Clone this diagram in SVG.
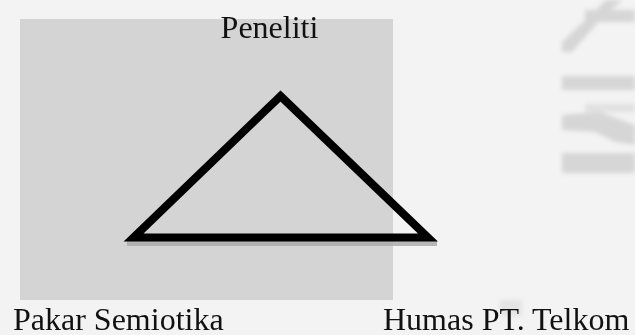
<svg xmlns="http://www.w3.org/2000/svg" width="635" height="335" viewBox="0 0 635 335">
  <style>
    .lbl { font-family: "Liberation Serif", "Times New Roman", serif; font-size: 32px; fill: #111; }
    .wm { fill: #d6d6d6; }
  </style>
  <defs>
    <filter id="soft" x="-10%" y="-10%" width="120%" height="120%">
      <feGaussianBlur stdDeviation="2"/>
    </filter>
  </defs>
  <rect x="0" y="0" width="635" height="335" fill="#f3f3f3"/>
  <g id="watermark" filter="url(#soft)">
    <polygon class="wm" points="562,42 598,8 606,0 622,0 600,20 572,52 562,52"/>
    <rect class="wm" x="585" y="10" width="50" height="12"/>
    <rect class="wm" x="562" y="76" width="73" height="14"/>
    <rect class="wm" x="585" y="104" width="50" height="8" opacity="0.6"/>
    <polygon class="wm" points="562,115 600,112 635,125 635,145 615,142 595,132 562,130"/>
    <rect class="wm" x="562" y="153" width="73" height="20"/>
    <rect class="wm" x="500" y="300" width="22" height="16" opacity="0.5"/>
  </g>
  <rect id="panel" x="20" y="19" width="373" height="281" fill="#d4d4d4"/>
  <g id="connectors">
    <rect x="127" y="241" width="310" height="5" fill="#a8a8a8" opacity="0.8"/>
    <polygon points="280.5,96 428,237.5 133.5,237.5" fill="none" stroke="#000" stroke-width="8" stroke-linejoin="miter" stroke-miterlimit="10"/>
  </g>
  <g id="node-peneliti">
    <text class="lbl" x="269.5" y="37.5" text-anchor="middle">Peneliti</text>
  </g>
  <g id="node-pakar">
    <text class="lbl" x="13" y="329.5">Pakar Semiotika</text>
  </g>
  <g id="node-humas">
    <text class="lbl" x="383" y="329.5">Humas PT. Telkom</text>
  </g>
</svg>
